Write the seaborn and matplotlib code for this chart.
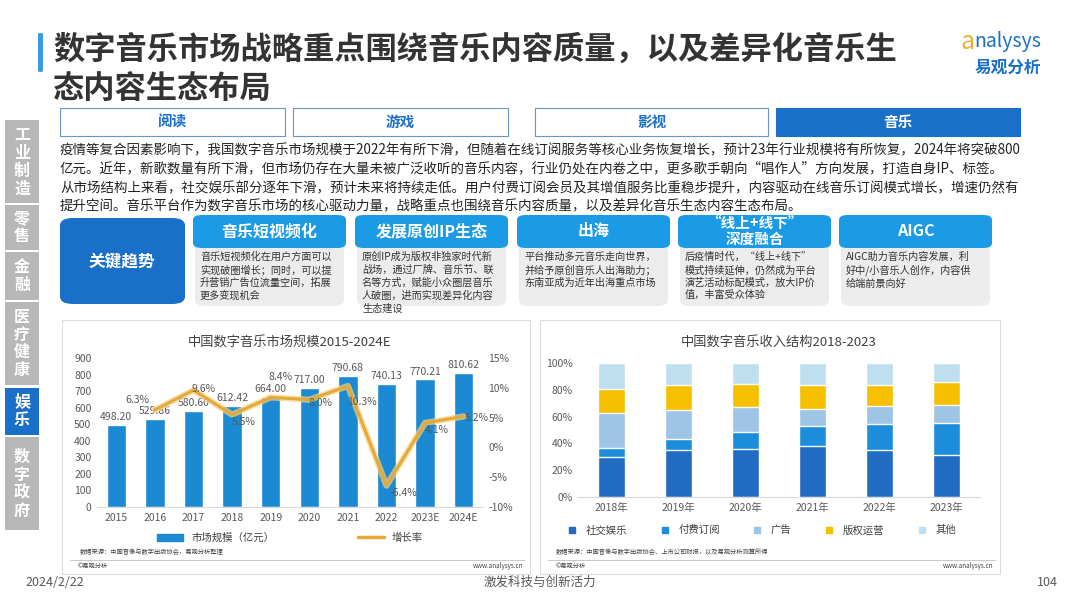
import numpy as np
import matplotlib.pyplot as plt
import seaborn as sns
from matplotlib.patches import FancyBboxPatch, Patch
from matplotlib.lines import Line2D

sns.set_style('white')
plt.rcParams['font.family'] = ['Noto Sans CJK SC', 'DejaVu Sans']
plt.rcParams['axes.unicode_minus'] = False

# ---------------- data ----------------
years = ['2015', '2016', '2017', '2018', '2019', '2020', '2021', '2022', '2023E', '2024E']
market = [498.20, 529.86, 580.60, 612.42, 664.00, 717.00, 790.68, 740.13, 770.21, 810.62]
growth_years = ['2016', '2017', '2018', '2019', '2020', '2021', '2022', '2023E', '2024E']
growth = [6.3, 9.6, 5.5, 8.4, 8.0, 10.3, -6.4, 4.1, 5.2]

rev_years = ['2018年', '2019年', '2020年', '2021年', '2022年', '2023年']
rev_names = ['社交娱乐', '付费订阅', '广告', '版权运营', '其他']
social = [29.6, 35.3, 35.8, 37.8, 35.3, 31.6]
subscr = [7.0, 8.2, 12.5, 14.9, 19.2, 23.4]
adv = [26.1, 21.7, 18.6, 13.2, 13.2, 13.4]
copyr = [17.9, 18.6, 17.7, 17.4, 16.1, 17.2]
other = [19.4, 16.2, 15.4, 16.7, 16.2, 14.4]

tabs = ['阅读', '游戏', '影视', '音乐']
side = ['工业制造', '零售', '金融', '医疗健康', '娱乐', '数字政府']
cards = ['音乐短视频化', '发展原创IP生态', '出海', '“线上+线下”\n深度融合', 'AIGC']
card_txt = [
    '音乐短视频化在用户方面可以\n实现破圈增长；同时，可以提\n升营销广告位流量空间，拓展\n更多变现机会',
    '原创IP成为版权非独家时代新\n战场，通过厂牌、音乐节、联\n名等方式，赋能小众圈层音乐\n人破圈，进而实现差异化内容\n生态建设',
    '平台推动多元音乐走向世界，\n并给予原创音乐人出海助力；\n东南亚成为近年出海重点市场',
    '后疫情时代，“线上+线下”\n模式持续延伸，仍然成为平台\n演艺活动标配模式，放大IP价\n值，丰富受众体验',
    'AIGC助力音乐内容发展，利\n好中/小音乐人创作，内容供\n给端前景向好',
]
para = [
    '疫情等复合因素影响下，我国数字音乐市场规模于2022年有所下滑，但随着在线订阅服务等核心业务恢复增长，预计23年行业规模将有所恢复，2024年将突破800',
    '亿元。近年，新歌数量有所下滑，但市场仍存在大量未被广泛收听的音乐内容，行业仍处在内卷之中，更多歌手朝向“唱作人”方向发展，打造自身IP、标签。',
    '从市场结构上来看，社交娱乐部分逐年下滑，预计未来将持续走低。用户付费订阅会员及其增值服务比重稳步提升，内容驱动在线音乐订阅模式增长，增速仍然有',
    '提升空间。音乐平台作为数字音乐市场的核心驱动力量，战略重点也围绕音乐内容质量，以及差异化音乐生态内容生态布局。',
]

W, H = 1080, 608
fig = plt.figure(figsize=(10.8, 6.08), dpi=100)
fig.patch.set_facecolor('white')

def fx(x):
    return x / W

def fy(y):
    return 1 - y / H

def box(x0, y0, x1, y1, fc, ec='none', lw=0, r=0.0, z=1):
    style = 'round,pad=0,rounding_size=%f' % r if r else 'square,pad=0'
    p = FancyBboxPatch((fx(x0), fy(y1)), fx(x1 - x0), (y1 - y0) / H, boxstyle=style,
                       transform=fig.transFigure, fc=fc, ec=ec, lw=lw, zorder=z)
    fig.add_artist(p)

BLUE = '#1a6fc9'
DARK = '#333333'

# ---------------- title ----------------
box(38, 33, 43, 72, '#3a9be0', r=0.002)
fig.text(fx(53), fy(50), '数字音乐市场战略重点围绕音乐内容质量，以及差异化音乐生',
         fontsize=22.5, fontweight='bold', color=DARK, va='center')
fig.text(fx(53), fy(89), '态内容生态布局', fontsize=22.5, fontweight='bold', color=DARK, va='center')
fig.text(fx(960), fy(42), 'a', fontsize=18, color='#e6b13a', style='italic', va='center')
fig.text(fx(974), fy(42), 'nalysys', fontsize=14, color=BLUE, style='italic', va='center')
fig.text(fx(975), fy(68), '易观分析', fontsize=12, color=BLUE, fontweight='bold', va='center')

# ---------------- tabs ----------------
tab_x = [(60, 285), (293, 508), (535, 768), (776, 1020)]
for t, (a, b) in zip(tabs, tab_x):
    active = t == '音乐'
    box(a, 108, b, 136, BLUE if active else 'white', ec=BLUE if active else '#6a95c6', lw=0.8)
    fig.text(fx((a + b) / 2), fy(122), t, fontsize=10.5, fontweight='bold',
             color='white' if active else BLUE, ha='center', va='center')

# ---------------- sidebar ----------------
side_y = [(120, 203), (205, 250), (252, 300), (302, 385), (388, 435), (437, 530)]
for s, (a, b) in zip(side, side_y):
    active = s == '娱乐'
    box(5, a, 39, b, BLUE if active else '#b8b8b8')
    fig.text(fx(22), fy((a + b) / 2), '\n'.join(list(s)), fontsize=11.5, fontweight='bold',
             color='white', ha='center', va='center', linespacing=1.15)

# ---------------- paragraphs ----------------
for txt, y in zip(para, [150, 168, 188, 206]):
    fig.text(fx(60), fy(y), txt, fontsize=9.7, color='#222222', va='center')

# ---------------- key trends ----------------
box(60, 218, 185, 304, BLUE, r=0.012)
fig.text(fx(122), fy(262), '关键趋势', fontsize=12, fontweight='bold', color='white',
         ha='center', va='center')
card_x = [(193, 346), (355, 508), (517, 670), (678, 831), (839, 992)]
for name, body, (a, b) in zip(cards, card_txt, card_x):
    box(a + 2, 240, b - 2, 306, '#ececec', r=0.01)
    box(a, 215, b, 248, '#1b9ae6', r=0.008, z=2)
    fig.text(fx((a + b) / 2), fy(231), name, fontsize=11.5 if '\n' not in name else 10.5,
             fontweight='bold', color='white', ha='center', va='center', linespacing=1.0, zorder=3)
    fig.text(fx(a + 7), fy(252), body, fontsize=7.3, color='#333333', ha='left', va='top',
             linespacing=1.3, zorder=3)

# ---------------- chart panels ----------------
for a, b in [(62, 530), (540, 1000)]:
    box(a, 320, b, 574, 'white', ec='#dcdcdc', lw=0.8, z=-1)

# left chart
ax = fig.add_axes([fx(97), fy(507), fx(483 - 97), (507 - 358) / H])
ax.set_zorder(2)
ax.patch.set_alpha(0)
sns.barplot(x=years, y=market, color='#1b8ad3', width=0.5, ax=ax, saturation=1)
ax.set_ylim(0, 900)
ax.set_xlim(-0.5, 9.5)
ax.set_yticks(range(0, 901, 100))
ax.set_xlabel('')
ax.set_ylabel('')
ax.tick_params(axis='both', labelsize=7.5, colors='#595959', length=0, pad=4)
for sp in ax.spines.values():
    sp.set_visible(False)
ax.spines['bottom'].set_visible(True)
ax.spines['bottom'].set_color('#d9d9d9')
for i, v in enumerate(market):
    ax.text(i, v + 18, '%.2f' % v, ha='center', va='bottom', fontsize=7.5, color='#595959')

ax2 = ax.twinx()
ax2.set_zorder(3)
ax2.patch.set_alpha(0)
gx = [years.index(g) for g in growth_years]
sns.lineplot(x=gx, y=growth, color='#f2d48a', linewidth=4.5, ax=ax2, alpha=0.7)
sns.lineplot(x=gx, y=growth, color='#e6a935', linewidth=2.2, ax=ax2)
ax2.set_ylim(-10, 15)
ax2.set_yticks(range(-10, 16, 5))
ax2.set_yticklabels(['%d%%' % t for t in range(-10, 16, 5)])
ax2.tick_params(axis='y', labelsize=7.5, colors='#595959', length=0, pad=4)
for sp in ax2.spines.values():
    sp.set_visible(False)
offs = [(-0.45, 1.6), (0.25, 0.2), (0.3, -1.3), (0.25, 3.4), (0.3, -0.6),
        (0.35, -2.6), (0.45, -1.2), (0.3, -1.2), (0.35, -0.3)]
for x, g, (dx, dy) in zip(gx, growth, offs):
    ax2.text(x + dx, g + dy, '%.1f%%' % g, fontsize=7.5, color='#595959', ha='center', va='center')
ax.set_title('中国数字音乐市场规模2015-2024E', fontsize=9.5, color='#404040', pad=8)
h1 = [Patch(color='#1b8ad3'), Line2D([], [], color='#e6a935', lw=2.5)]
ax.legend(h1, ['市场规模（亿元）', '增长率'], ncol=2, frameon=False, fontsize=7.5,
          loc='upper center', bbox_to_anchor=(0.5, -0.11), columnspacing=8,
          handlelength=2.5, labelcolor='#404040')

# right chart
axr = fig.add_axes([fx(578), fy(497), fx(980 - 578), (497 - 363) / H])
axr.set_zorder(2)
axr.patch.set_alpha(0)
layers = [social, subscr, adv, copyr, other]
colors = ['#1f6cc2', '#1b8ddb', '#9ec4e6', '#f6bf00', '#bfdff1']
cum = np.cumsum(np.array(layers), axis=0) / 100.0
for k in range(len(layers) - 1, -1, -1):
    sns.barplot(x=rev_years, y=cum[k], color=colors[k], width=0.39, ax=axr, saturation=1)
axr.set_ylim(0, 1)
axr.set_xlim(-0.5, 5.5)
axr.set_yticks(np.arange(0, 1.01, 0.2))
axr.set_yticklabels(['%d%%' % round(t * 100) for t in np.arange(0, 1.01, 0.2)])
axr.set_xlabel('')
axr.set_ylabel('')
axr.tick_params(axis='both', labelsize=7.5, colors='#595959', length=0, pad=4)
for sp in axr.spines.values():
    sp.set_visible(False)
axr.spines['bottom'].set_visible(True)
axr.spines['bottom'].set_color('#d9d9d9')
axr.set_title('中国数字音乐收入结构2018-2023', fontsize=9.5, color='#404040', pad=12)
h2 = [Line2D([], [], marker='s', ls='', color=c, markersize=5) for c in colors]
axr.legend(h2, rev_names, ncol=5, frameon=False, fontsize=7.5, loc='upper center',
           bbox_to_anchor=(0.45, -0.14), columnspacing=2.6, handletextpad=0.3,
           labelcolor='#404040')

# sources
fig.text(fx(80), fy(552), '数据来源：中国音像与数字出版协会，易观分析整理', fontsize=4.5, color='#404040', va='center')
fig.text(fx(556), fy(552), '数据来源：中国音像与数字出版协会、上市公司财报，以及易观分析测算所得', fontsize=4.5,
         color='#404040', va='center')
for a, b in [(70, 525), (548, 995)]:
    fig.add_artist(Line2D([fx(a), fx(b)], [fy(560), fy(560)], color='#bfbfbf', lw=0.6,
                          transform=fig.transFigure))
    fig.text(fx(a + 8), fy(566), '©易观分析', fontsize=4.5, color='#404040', va='center')
    fig.text(fx(b - 2), fy(566), 'www.analysys.cn', fontsize=4.5, color='#404040', va='center', ha='right')

# footer
fig.text(fx(25), fy(583), '2024/2/22', fontsize=9, color='#595959', va='center')
fig.text(fx(540), fy(582), '激发科技与创新活力', fontsize=9, color='#595959', va='center', ha='center')
fig.text(fx(1058), fy(583), '104', fontsize=9, color='#595959', va='center', ha='right')

fig.savefig('out.png', dpi=100)
